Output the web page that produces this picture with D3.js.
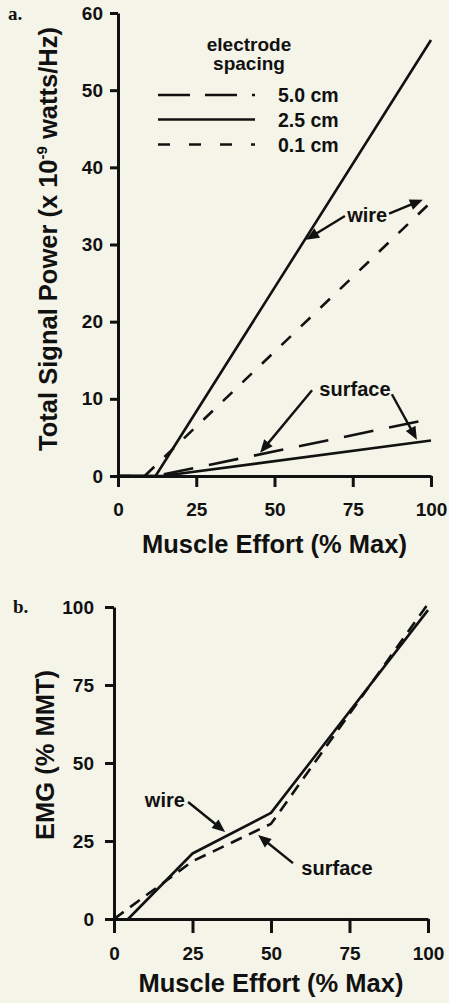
<!DOCTYPE html>
<html>
<head>
<meta charset="utf-8">
<script src="https://cdn.jsdelivr.net/npm/d3@7"></script>
<style>
  html, body { margin: 0; padding: 0; background: #f5f4e8; }
  svg { display: block; }
  text { font-family: "Liberation Sans", Arial, Helvetica, sans-serif; font-weight: bold; fill: #111; }
</style>
</head>
<body>
<svg id="chart" width="449" height="1003"></svg>
<script>
// ---------------- DATA ----------------
// Panel a: total signal power (x 1e-9 watts/Hz) vs muscle effort (% max)
const xTicksA = [0, 25, 50, 75, 100];
const yTicksA = [0, 10, 20, 30, 40, 50, 60];
const wire25Effort = [0, 12, 100];
const wire25Power  = [0, 0, 56.5];
const wire01Effort = [0, 8.5, 100];
const wire01Power  = [0, 0, 35.5];
const surf50Effort = [0, 12, 100];
const surf50Power  = [0, 0, 7.4];
const surf25Effort = [0, 14, 100];
const surf25Power  = [0, 0, 4.6];
const legendLabels = ["5.0 cm", "2.5 cm", "0.1 cm"];

// Panel b: EMG (% MMT) vs muscle effort (% max)
const xTicksB = [0, 25, 50, 75, 100];
const yTicksB = [0, 25, 50, 75, 100];
const wireBEffort = [4.5, 25, 50, 100];
const wireBEmg    = [0, 21, 34, 99];
const surfBEffort = [0, 25, 50, 100];
const surfBEmg    = [0, 18.5, 30.5, 101];

// Annotations (data units)
const annotA = [
  {text: "wire", x: 79.6, y: 32.9, arrows: [[72.5, 33.7, 60.1, 30.6], [86.6, 34.0, 97.4, 35.8]]},
  {text: "surface", x: 75.7, y: 10.4, arrows: [[62.0, 11.1, 45.4, 3.0], [87.5, 10.6, 95.5, 4.7]]}
];
const annotB = [
  {text: "wire", x: 16.2, y: 35.9, arrows: [[23.6, 37.5, 35.4, 27.9]]},
  {text: "surface", x: 71.0, y: 14.1, arrows: [[57.0, 17.9, 45.9, 26.9]]}
];

// ---------------- DRAW ----------------
const svg = d3.select("#chart");
const ink = "#111";

const xA = d3.scaleLinear().domain([0, 100]).range([118, 431]);
const yA = d3.scaleLinear().domain([0, 60]).range([476, 13]);
const xB = d3.scaleLinear().domain([0, 100]).range([114, 428]);
const yB = d3.scaleLinear().domain([0, 100]).range([919, 607]);

function styleAxis(g, fs) {
  g.select(".domain").attr("stroke", ink).attr("stroke-width", 3);
  g.selectAll(".tick line").attr("stroke", ink).attr("stroke-width", 3);
  g.selectAll(".tick text").attr("font-size", fs).attr("fill", ink)
    .attr("font-family", "'Liberation Sans', Arial, sans-serif").attr("font-weight", "bold");
}

function drawLine(xs, ys, xsc, ysc, dash) {
  const pts = xs.map((v, i) => [v, ys[i]]);
  svg.append("path")
    .attr("d", d3.line().x(d => xsc(d[0])).y(d => ysc(d[1]))(pts))
    .attr("fill", "none").attr("stroke", ink).attr("stroke-width", 2.6)
    .attr("stroke-dasharray", dash || null)
    .attr("stroke-linejoin", "round");
}

function drawArrow(a, xsc, ysc) {
  const x1 = xsc(a[0]), y1 = ysc(a[1]), x2 = xsc(a[2]), y2 = ysc(a[3]);
  const ang = Math.atan2(y2 - y1, x2 - x1);
  const L = 13, W = 5.5;
  const bx = x2 - L * Math.cos(ang), by = y2 - L * Math.sin(ang);
  svg.append("line").attr("x1", x1).attr("y1", y1).attr("x2", bx + 2 * Math.cos(ang)).attr("y2", by + 2 * Math.sin(ang))
    .attr("stroke", ink).attr("stroke-width", 2.4);
  const px = -Math.sin(ang), py = Math.cos(ang);
  svg.append("polygon")
    .attr("points", [[x2, y2], [bx + W * px, by + W * py], [bx - W * px, by - W * py]].map(p => p.join(",")).join(" "))
    .attr("fill", ink);
}

function drawAnnot(list, xsc, ysc) {
  list.forEach(an => {
    svg.append("text").attr("x", xsc(an.x)).attr("y", ysc(an.y))
      .attr("text-anchor", "middle").attr("font-size", 20).text(an.text);
    an.arrows.forEach(a => drawArrow(a, xsc, ysc));
  });
}

// ---- Panel a ----
svg.append("text").attr("x", 8).attr("y", 20)
  .style("font-family", "'Liberation Serif', 'Times New Roman', serif")
  .attr("font-size", 19).text("a.");

const gyA = svg.append("g").attr("transform", `translate(${xA(0)},0)`)
  .call(d3.axisLeft(yA).tickValues(yTicksA).tickSize(8).tickSizeOuter(0).tickPadding(7));
styleAxis(gyA, 19);
const gxA = svg.append("g").attr("transform", `translate(0,${yA(0)})`)
  .call(d3.axisBottom(xA).tickValues(xTicksA).tickSize(11).tickSizeOuter(0).tickPadding(16));
styleAxis(gxA, 19);

const dashLong = "30,16", dashShort = "13,14";
drawLine(wire25Effort, wire25Power, xA, yA, null);
drawLine(wire01Effort, wire01Power, xA, yA, dashShort);
drawLine(surf50Effort, surf50Power, xA, yA, dashLong);
drawLine(surf25Effort, surf25Power, xA, yA, null);

// axis titles panel a
svg.append("text").attr("x", (xA(0) + xA(100)) / 2).attr("y", 553)
  .attr("text-anchor", "middle").attr("font-size", 25.5).text("Muscle Effort (% Max)");
const yt = svg.append("text").attr("transform", `translate(57,239) rotate(-90)`)
  .attr("text-anchor", "middle").attr("font-size", 25.5);
yt.append("tspan").text("Total Signal Power (x 10");
yt.append("tspan").attr("font-size", 15).attr("dy", -10).text("-9");
yt.append("tspan").attr("dy", 10).text(" watts/Hz)");

// legend
svg.append("text").attr("x", 249).attr("y", 51).attr("text-anchor", "middle").attr("font-size", 19).text("electrode");
svg.append("text").attr("x", 249).attr("y", 70).attr("text-anchor", "middle").attr("font-size", 19).text("spacing");
const legendDash = ["32,15", null, "12,19"];
const legendY = [95, 119.5, 144.5];
legendLabels.forEach((lab, i) => {
  svg.append("line").attr("x1", 158).attr("x2", 255).attr("y1", legendY[i]).attr("y2", legendY[i])
    .attr("stroke", ink).attr("stroke-width", 2.6).attr("stroke-dasharray", legendDash[i]);
  svg.append("text").attr("x", 278).attr("y", legendY[i] + 7).attr("font-size", 19.5).text(lab);
});

drawAnnot(annotA, xA, yA);

// ---- Panel b ----
svg.append("text").attr("x", 13).attr("y", 613)
  .style("font-family", "'Liberation Serif', 'Times New Roman', serif")
  .attr("font-size", 19).text("b.");

const gyB = svg.append("g").attr("transform", `translate(${xB(0)},0)`)
  .call(d3.axisLeft(yB).tickValues(yTicksB).tickSize(9).tickSizeOuter(0).tickPadding(11));
styleAxis(gyB, 19);
const gxB = svg.append("g").attr("transform", `translate(0,${yB(0)})`)
  .call(d3.axisBottom(xB).tickValues(xTicksB).tickSize(14).tickSizeOuter(0).tickPadding(14));
styleAxis(gxB, 19);

drawLine(wireBEffort, wireBEmg, xB, yB, null);
drawLine(surfBEffort, surfBEmg, xB, yB, "12,8");

svg.append("text").attr("x", (xB(0) + xB(100)) / 2).attr("y", 992)
  .attr("text-anchor", "middle").attr("font-size", 25.5).text("Muscle Effort (% Max)");
svg.append("text").attr("transform", `translate(54,755) rotate(-90)`)
  .attr("text-anchor", "middle").attr("font-size", 25.5).text("EMG (% MMT)");

drawAnnot(annotB, xB, yB);
</script>
</body>
</html>
